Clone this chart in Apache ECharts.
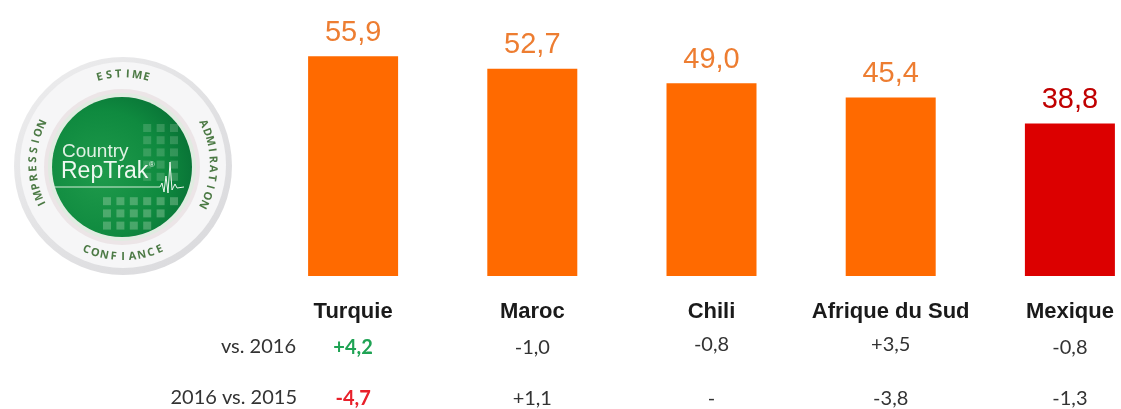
<!DOCTYPE html>
<html lang="fr">
<head>
<meta charset="UTF-8">
<title>Country RepTrak</title>
<style>
	body { margin: 0; padding: 0; background: #fff; }
	#main { width: 1121px; height: 409px; }
</style>
</head>
<body>
<div id="main"></div>
<script src="https://cdn.jsdelivr.net/npm/echarts@6/dist/echarts.min.js"></script>
<script>
// scores par pays
var countries = ['Turquie', 'Maroc', 'Chili', 'Afrique du Sud', 'Mexique'];
var scores = [55.9, 52.7, 49.0, 45.4, 38.8];
var barColors = ['#ff6a00', '#ff6a00', '#ff6a00', '#ff6a00', '#dc0000'];
var labelColors = ['#ed7d31', '#ed7d31', '#ed7d31', '#ed7d31', '#c00000'];
// evolutions
var vs2016 = ['+4,2', '-1,0', '-0,8', '+3,5', '-0,8'];
var vs2015 = ['-4,7', '+1,1', '-', '-3,8', '-1,3'];
var rowNames = ['vs. 2016', '2016 vs. 2015'];

var chart = echarts.init(document.getElementById('main'));

var tableFont = 'Lato, "Open Sans", sans-serif';

// axe du bas sans trait, juste pour les lignes de texte
function textAxis(offset, values, rich) {
	return {
		type: 'category',
		position: 'bottom',
		offset: offset,
		data: values,
		axisLine: { show: false },
		axisTick: { show: false },
		axisLabel: {
			interval: 0,
			margin: 0,
			formatter: function (value, index) {
				return '{s' + index + '|' + value + '}';
			},
			rich: rich
		}
	};
}

function cell(color, weight, padTop) {
	return {
		color: color,
		fontWeight: weight,
		fontSize: 20,
		fontFamily: tableFont,
		padding: [padTop || 0, 0, 0, 0]
	};
}

// logo dessine a la main
var cx = 123, cy = 164;
var gx = 122, gy = 167, gr = 70;

function arcText(str, radius, centerDeg, stepDeg, bottom) {
	var out = [];
	for (var i = 0; i < str.length; i++) {
		var offs = (i - (str.length - 1) / 2) * stepDeg;
		var deg = bottom ? centerDeg - offs : centerDeg + offs;
		var rad = deg * Math.PI / 180;
		out.push({
			type: 'text',
			x: cx + radius * Math.sin(rad),
			y: cy - radius * Math.cos(rad),
			rotation: bottom ? -(deg - 180) * Math.PI / 180 : -deg * Math.PI / 180,
			z: 10,
			style: {
				text: str[i],
				fill: '#4c7a45',
				font: 'bold 11px "Open Sans", sans-serif',
				align: 'center',
				verticalAlign: 'middle'
			}
		});
	}
	return out;
}

var logo = [
	{
		type: 'circle', z: 1,
		shape: { cx: cx, cy: cy + 2, r: 109 },
		style: {
			fill: {
				type: 'linear', x: 0, y: 0, x2: 1, y2: 1,
				colorStops: [{ offset: 0, color: '#eeeeef' }, { offset: 0.5, color: '#e2e2e4' }, { offset: 1, color: '#d9d9dc' }]
			}
		}
	},
	{ type: 'circle', z: 2, shape: { cx: cx, cy: cy + 1, r: 103 }, style: { fill: '#f6f6f7' } },
	{ type: 'circle', z: 3, shape: { cx: gx, cy: gy, r: gr + 8 }, style: { fill: '#ece5e7' } },
	{ type: 'circle', z: 3, shape: { cx: gx, cy: gy, r: gr + 4 }, style: { fill: '#e0ece1' } },
	{
		type: 'circle', z: 4,
		shape: { cx: gx, cy: gy, r: gr },
		style: {
			fill: {
				type: 'radial', x: 0.35, y: 0.55, r: 0.75,
				colorStops: [{ offset: 0, color: '#1f9a4b' }, { offset: 0.6, color: '#0f8a3f' }, { offset: 1, color: '#066b33' }]
			}
		}
	},
	{ type: 'text', z: 7, x: 62, y: 152, style: { text: 'Country', fill: '#dff1e3', font: '19px "Liberation Sans", Arial, sans-serif', verticalAlign: 'middle' } },
	{ type: 'text', z: 7, x: 61, y: 172, style: { text: 'RepTrak', fill: '#eef8f0', font: '23px "Liberation Sans", Arial, sans-serif', verticalAlign: 'middle' } },
	{ type: 'text', z: 7, x: 149, y: 165, style: { text: '\u00ae', fill: '#eef8f0', font: '8px "Liberation Sans", Arial, sans-serif', verticalAlign: 'middle' } },
	{ type: 'line', z: 7, shape: { x1: 54, y1: 187, x2: 160, y2: 187 }, style: { stroke: '#d5ecd9', lineWidth: 1 } },
	{
		type: 'polyline', z: 7,
		shape: { points: [[160, 187], [162, 183], [164, 192], [166, 176], [168, 193], [170, 162], [172, 190], [175, 184], [177, 188], [184, 187]] },
		style: { stroke: '#eef8f0', lineWidth: 1, fill: null }
	}
];

// petits carres clairs du logo
for (var row = 0; row < 9; row++) {
	if (row === 5) continue;
	for (var col = 0; col < 7; col++) {
		var px = 103 + col * 13.4, py = 124 + row * 12.2;
		var d = Math.sqrt((px + 4 - gx) * (px + 4 - gx) + (py + 4 - gy) * (py + 4 - gy));
		if (d > gr - 5) continue;
		if (row < 5 && px < 140) continue;
		logo.push({
			type: 'rect', z: 5,
			shape: { x: px, y: py, width: 8, height: 8 },
			style: { fill: 'rgba(190,225,195,' + (row < 5 ? 0.22 : 0.33) + ')' }
		});
	}
}

logo = logo
	.concat(arcText('ESTIME', 90, 0, 6, false))
	.concat(arcText('ADMIRATION', 90, 90, 5.9, false))
	.concat(arcText('IMPRESSION', 90, -90, 5.8, false))
	.concat(arcText('CONFIANCE', 93, 180, 5.8, true));

var rowLabels = [
	{ type: 'text', x: 296, y: 347, style: { text: rowNames[0], fill: '#333', font: '20px ' + tableFont, align: 'right', verticalAlign: 'middle' } },
	{ type: 'text', x: 297, y: 398, style: { text: rowNames[1], fill: '#333', font: '20px ' + tableFont, align: 'right', verticalAlign: 'middle' } }
];

var nameRich = {}, row1Rich = {}, row2Rich = {};
for (var i = 0; i < countries.length; i++) {
	nameRich['s' + i] = {
		color: '#1a1a1a', fontWeight: 'bold', fontSize: 22,
		fontFamily: '"Liberation Sans", Arial, sans-serif'
	};
	row1Rich['s' + i] = cell('#333', 'normal', (i === 2 || i === 3) ? 0 : 3);
	row2Rich['s' + i] = cell('#333', 'normal', 0);
}
row1Rich.s0 = cell('#1fa354', 'bold', 3);
row2Rich.s0 = cell('#e8202a', 'bold', 0);

chart.setOption({
	animation: false,
	backgroundColor: '#fff',
	grid: { left: 263.5, top: 40, width: 896, height: 236, outerBoundsMode: 'none' },
	xAxis: [
		textAxis(25, countries, nameRich),
		textAxis(59, vs2016, row1Rich),
		textAxis(113, vs2015, row2Rich)
	],
	yAxis: { type: 'value', min: 0, max: 60, show: false },
	series: [{
		type: 'bar',
		barWidth: 90,
		xAxisIndex: 0,
		data: scores.map(function (v, i) {
			return {
				value: v,
				itemStyle: { color: barColors[i] },
				label: { color: labelColors[i] }
			};
		}),
		label: {
			show: true,
			position: 'top',
			distance: 9,
			fontSize: 29,
			fontFamily: '"Liberation Sans", Arial, sans-serif',
			formatter: function (p) {
				return p.value.toFixed(1).replace('.', ',');
			}
		}
	}],
	graphic: { elements: logo.concat(rowLabels) }
});
</script>
</body>
</html>
